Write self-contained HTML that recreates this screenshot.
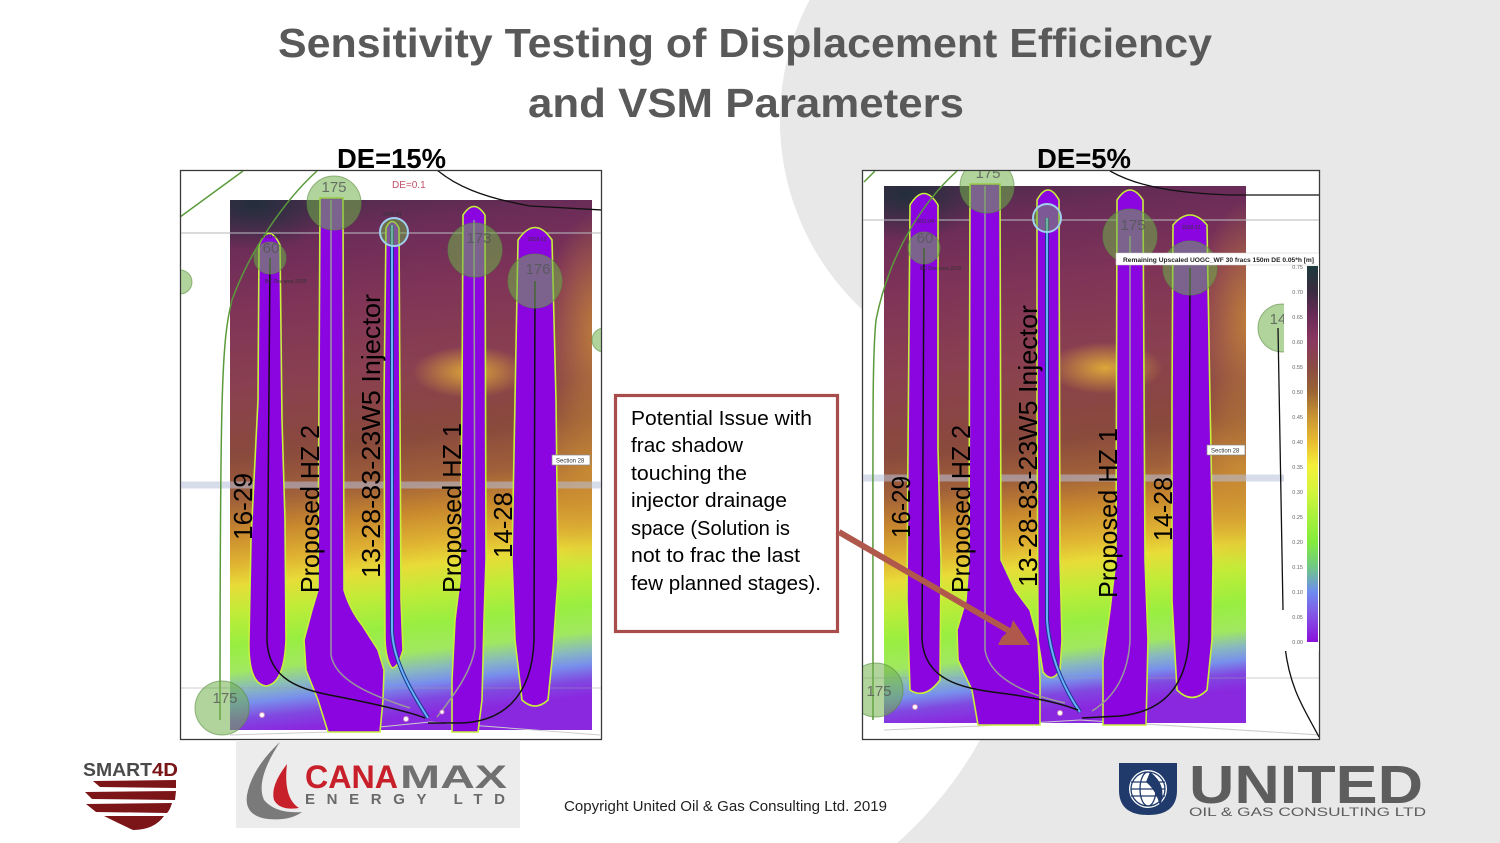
<!DOCTYPE html>
<html><head><meta charset="utf-8"><style>
html,body{margin:0;padding:0;background:#e8e8e8;}
svg{display:block;font-family:"Liberation Sans",sans-serif;}
</style></head><body>
<svg width="1500" height="843" viewBox="0 0 1500 843" xmlns="http://www.w3.org/2000/svg">
<defs>
 <linearGradient id="mapL" gradientUnits="userSpaceOnUse" x1="230" y1="200" x2="290" y2="730">
  <stop offset="0" stop-color="#4c2c4c"/><stop offset="0.08" stop-color="#6a2c58"/>
  <stop offset="0.2" stop-color="#7f3358"/><stop offset="0.35" stop-color="#8a4050"/>
  <stop offset="0.48" stop-color="#8a4a3c"/><stop offset="0.56" stop-color="#a0603a"/>
  <stop offset="0.62" stop-color="#c8882e"/><stop offset="0.68" stop-color="#e0b432"/>
  <stop offset="0.72" stop-color="#e8dc38"/><stop offset="0.77" stop-color="#c0ec38"/>
  <stop offset="0.83" stop-color="#98ee40"/><stop offset="0.88" stop-color="#a0e860"/>
  <stop offset="0.915" stop-color="#88b8c0"/><stop offset="0.94" stop-color="#7890ec"/>
  <stop offset="0.97" stop-color="#8048e0"/><stop offset="1" stop-color="#8a28e0"/>
 </linearGradient>
 <linearGradient id="mapR" gradientUnits="userSpaceOnUse" x1="884" y1="186" x2="944" y2="723">
  <stop offset="0" stop-color="#4c2c4c"/><stop offset="0.08" stop-color="#6a2c58"/>
  <stop offset="0.2" stop-color="#7f3358"/><stop offset="0.35" stop-color="#8a4050"/>
  <stop offset="0.5" stop-color="#8a4a3c"/><stop offset="0.57" stop-color="#a0603a"/>
  <stop offset="0.63" stop-color="#c8882e"/><stop offset="0.69" stop-color="#e0b432"/>
  <stop offset="0.73" stop-color="#e8dc38"/><stop offset="0.78" stop-color="#c0ec38"/>
  <stop offset="0.84" stop-color="#98ee40"/><stop offset="0.89" stop-color="#a0e860"/>
  <stop offset="0.92" stop-color="#88b8c0"/><stop offset="0.945" stop-color="#7890ec"/>
  <stop offset="0.97" stop-color="#8048e0"/><stop offset="1" stop-color="#8a28e0"/>
 </linearGradient>
 <radialGradient id="gDark"><stop offset="0" stop-color="#1e2e3a" stop-opacity="0.9"/><stop offset="1" stop-color="#1e2e3a" stop-opacity="0"/></radialGradient>
 <radialGradient id="gOr"><stop offset="0" stop-color="#e2ac38" stop-opacity="0.95"/><stop offset="1" stop-color="#e2ac38" stop-opacity="0"/></radialGradient>
 <radialGradient id="gOr2"><stop offset="0" stop-color="#cc9034" stop-opacity="0.8"/><stop offset="1" stop-color="#cc9034" stop-opacity="0"/></radialGradient>
 <linearGradient id="cbar" x1="0" y1="0" x2="0" y2="1">
  <stop offset="0" stop-color="#1c3a3c"/><stop offset="0.067" stop-color="#3a2c40"/>
  <stop offset="0.133" stop-color="#6a2a58"/><stop offset="0.2" stop-color="#8a3860"/>
  <stop offset="0.267" stop-color="#8a4a44"/><stop offset="0.333" stop-color="#9a6434"/>
  <stop offset="0.4" stop-color="#c89432"/><stop offset="0.467" stop-color="#e8bc30"/>
  <stop offset="0.533" stop-color="#f4f038"/><stop offset="0.6" stop-color="#d4f43c"/>
  <stop offset="0.667" stop-color="#a8f03c"/><stop offset="0.733" stop-color="#84ec3c"/>
  <stop offset="0.8" stop-color="#70c884"/><stop offset="0.867" stop-color="#6e8cf0"/>
  <stop offset="0.933" stop-color="#8450e4"/><stop offset="1" stop-color="#8a10dc"/>
 </linearGradient>
 <clipPath id="cpL"><rect x="181" y="171" width="420" height="568"/></clipPath>
 <clipPath id="cpR"><rect x="863" y="171" width="456" height="568"/></clipPath>
 <clipPath id="mL"><rect x="230" y="200" width="362" height="530"/></clipPath>
 <clipPath id="mR"><rect x="884" y="186" width="362" height="537"/></clipPath>
</defs>

<!-- background -->
<rect width="1500" height="843" fill="#e8e8e8"/>
<path d="M0,0 L809.5,0 A259,259 0 0 0 887,330 L1000,700 L980,740 A390,390 0 0 1 897,843 L0,843 Z" fill="#ffffff"/>

<!-- title -->
<text x="278" y="57" font-size="41" font-weight="bold" fill="#595959" textLength="934" lengthAdjust="spacingAndGlyphs">Sensitivity Testing of Displacement Efficiency</text>
<text x="528" y="117" font-size="41" font-weight="bold" fill="#595959" textLength="436" lengthAdjust="spacingAndGlyphs">and VSM Parameters</text>

<text x="337" y="168" font-size="28" font-weight="bold" fill="#000" textLength="109" lengthAdjust="spacingAndGlyphs">DE=15%</text>
<text x="1037" y="168" font-size="28" font-weight="bold" fill="#000" textLength="94" lengthAdjust="spacingAndGlyphs">DE=5%</text>

<!-- ============ LEFT PANEL ============ -->
<rect x="180.5" y="170.5" width="421" height="569" fill="#fff" stroke="#3a3a3a" stroke-width="1.3"/>
<g clip-path="url(#cpL)">
 <g clip-path="url(#mL)">
  <rect x="230" y="200" width="362" height="530" fill="url(#mapL)"/>
  <ellipse cx="255" cy="205" rx="85" ry="45" fill="url(#gDark)"/>
  <ellipse cx="470" cy="372" rx="58" ry="26" fill="url(#gOr)"/>
  <ellipse cx="600" cy="330" rx="55" ry="120" fill="url(#gOr2)"/>
  <ellipse cx="592" cy="470" rx="75" ry="95" fill="url(#gOr2)"/>
 </g>
 <line x1="180" y1="233" x2="602" y2="233" stroke="#b8b8c0" stroke-width="1.5" opacity="0.7"/>
 <line x1="180" y1="485" x2="602" y2="485" stroke="#b8c0dc" stroke-width="7" opacity="0.55"/>
 <line x1="180" y1="688" x2="602" y2="688" stroke="#9a9aa8" stroke-width="1" opacity="0.5"/>
 <path d="M230,735 L330,732 L430,722 L600,735" fill="none" stroke="#ccc" stroke-width="1"/>
 <!-- wells -->
 <g fill="#8b05e0" stroke="#c8f03a" stroke-width="1.6">
  <path d="M259,245 Q269,222 280,245 L282,420 L285,520 L286,640 Q284,684 266,686 Q248,684 249,640 L251,540 L255,460 L258,400 Z"/>
  <path d="M320,198 L343,198 L344,590 Q350,610 362,625 L378,650 L384,670 L383,700 L380,732 L328,732 L318,700 L306,670 L304,640 L312,610 L318,590 Z"/>
  <path d="M386,228 Q392,215 399,228 L401,600 L403,650 Q398,668 392,668 Q386,660 385,640 L384,400 Z"/>
  <path d="M463,215 Q474,198 485,215 L486,560 L484,620 L482,700 L478,732 L452,732 L452,680 L455,620 L460,580 L462,400 Z"/>
  <path d="M518,240 Q535,215 552,240 L556,400 L558,580 L553,650 L548,700 Q535,712 522,700 L515,640 L512,560 L515,400 Z"/>
 </g>
 <!-- lines -->
 <path d="M331,200 L331,655 C335,680 370,695 410,708" fill="none" stroke="#9a9a9a" stroke-width="1.5"/>
 <path d="M474,220 L475,647 C472,673 450,700 437,717" fill="none" stroke="#9a9a9a" stroke-width="1.5"/>
 <path d="M392,225 L392,630 C393,660 410,690 428,718" fill="none" stroke="#1a3a8a" stroke-width="4"/>
 <path d="M392,225 L392,630 C393,660 410,690 428,718" fill="none" stroke="#6ab0ff" stroke-width="2"/>
 <path d="M270,258 L267,640 C268,680 300,690 340,697 C380,705 410,712 425,718" fill="none" stroke="#111" stroke-width="1.5"/>
 <path d="M535,281 L534,640 C532,700 500,722 460,723 L428,723" fill="none" stroke="#111" stroke-width="1.5"/>
 <path d="M437,170 C455,185 480,197 530,206 L602,210" fill="none" stroke="#111" stroke-width="1.3"/>
 <path d="M180,217 L243,171" fill="none" stroke="#5a9a3a" stroke-width="1.5"/>
 <path d="M317,171 C285,200 250,250 232,300 C222,340 220,380 220,720" fill="none" stroke="#5a9a3a" stroke-width="1.5"/>
 <!-- circles -->
 <g fill="#6fb04a" fill-opacity="0.55" stroke="#5a8a40" stroke-opacity="0.6">
  <circle cx="334" cy="203" r="27"/><circle cx="270" cy="258" r="16"/>
  <circle cx="475" cy="250" r="27"/><circle cx="535" cy="281" r="27"/>
  <circle cx="222" cy="708" r="27"/><circle cx="180" cy="282" r="12"/><circle cx="604" cy="340" r="12"/>
 </g>
 <circle cx="394" cy="232" r="14" fill="#6fb04a" fill-opacity="0.5" stroke="#9fd0f0" stroke-width="2"/>
 <g font-size="15" fill="#555" fill-opacity="0.8" text-anchor="middle">
  <text x="334" y="192">175</text><text x="271" y="253">60</text>
  <text x="479" y="243">173</text><text x="538" y="274">176</text><text x="225" y="703">175</text>
 </g>
 <g font-size="5" fill="#333">
  <text x="262" y="238">2011-04</text><text x="265" y="283">BC Dev area 2018</text>
  <text x="383" y="216">2041-04</text><text x="528" y="241">2018-12</text>
 </g>
 <text x="392" y="188" font-size="10" fill="#c0506a">DE=0.1</text>
 <circle cx="262" cy="715" r="2.5" fill="#fff" stroke="#d090c0"/>
 <circle cx="406" cy="719" r="2.5" fill="#fff" stroke="#d090c0"/>
 <circle cx="442" cy="712" r="2" fill="#fff" stroke="#d090c0"/>
 <rect x="552" y="455" width="38" height="10" fill="#fff" stroke="#888" stroke-width="0.7"/>
 <text x="556" y="462.5" font-size="6" fill="#333">Section 28</text>
 <!-- labels -->
 <g font-size="26" fill="#000">
  <text transform="translate(252,540) rotate(-90)" textLength="67" lengthAdjust="spacingAndGlyphs">16-29</text>
  <text transform="translate(319,593) rotate(-90)" textLength="168" lengthAdjust="spacingAndGlyphs">Proposed HZ 2</text>
  <text transform="translate(380,578) rotate(-90)" textLength="284" lengthAdjust="spacingAndGlyphs">13-28-83-23W5 Injector</text>
  <text transform="translate(461,593) rotate(-90)" textLength="170" lengthAdjust="spacingAndGlyphs">Proposed HZ 1</text>
  <text transform="translate(512,558) rotate(-90)" textLength="66" lengthAdjust="spacingAndGlyphs">14-28</text>
 </g>
</g>

<!-- ============ RIGHT PANEL ============ -->
<rect x="862.5" y="170.5" width="457" height="569" fill="#fff" stroke="#3a3a3a" stroke-width="1.3"/>
<g clip-path="url(#cpR)">
 <g clip-path="url(#mR)">
  <rect x="884" y="186" width="362" height="537" fill="url(#mapR)"/>
  <ellipse cx="905" cy="195" rx="85" ry="45" fill="url(#gDark)"/>
  <ellipse cx="1105" cy="368" rx="58" ry="26" fill="url(#gOr)"/>
  <ellipse cx="1250" cy="320" rx="55" ry="120" fill="url(#gOr2)"/>
  <ellipse cx="1240" cy="470" rx="75" ry="95" fill="url(#gOr2)"/>
 </g>
 <line x1="862" y1="220" x2="1320" y2="220" stroke="#b8b8c0" stroke-width="1.5" opacity="0.7"/>
 <line x1="862" y1="478" x2="1285" y2="478" stroke="#b8c0dc" stroke-width="7" opacity="0.55"/>
 <line x1="862" y1="678" x2="1320" y2="678" stroke="#9a9aa8" stroke-width="1" opacity="0.5"/>
 <path d="M884,730 L980,726 L1080,720 L1320,735" fill="none" stroke="#ccc" stroke-width="1"/>
 <g fill="#8b05e0" stroke="#c8f03a" stroke-width="1.6">
  <path d="M910,205 Q924,182 938,205 L938,450 L941,560 L940,680 Q925,700 910,690 L907,600 L908,450 Z"/>
  <path d="M970,184 L1000,184 L1001,560 L1015,590 L1030,610 L1038,640 L1040,680 L1040,725 L978,725 L972,690 L958,660 L957,630 L966,600 L969,560 Z"/>
  <path d="M1037,200 Q1048,180 1059,200 L1060,560 L1062,640 L1060,670 Q1052,684 1043,672 L1038,640 L1037,400 Z"/>
  <path d="M1117,200 Q1130,180 1143,200 L1145,560 L1148,640 L1146,725 L1103,725 L1103,660 L1110,610 L1116,560 Z"/>
  <path d="M1173,225 Q1190,205 1207,225 L1210,400 L1213,560 L1212,640 L1207,690 Q1192,705 1177,690 L1172,600 L1172,400 Z"/>
 </g>
 <path d="M985,186 L985,650 C990,680 1030,695 1065,703" fill="none" stroke="#9a9a9a" stroke-width="1.5"/>
 <path d="M1130,236 L1130,640 C1128,680 1110,700 1092,711" fill="none" stroke="#9a9a9a" stroke-width="1.5"/>
 <path d="M1047,218 L1047,620 C1050,660 1065,690 1080,712" fill="none" stroke="#1a3a8a" stroke-width="4"/>
 <path d="M1047,218 L1047,620 C1050,660 1065,690 1080,712" fill="none" stroke="#6ab0ff" stroke-width="2"/>
 <path d="M924,248 L922,640 C925,680 960,688 1000,693 C1040,698 1065,705 1078,710" fill="none" stroke="#111" stroke-width="1.5"/>
 <path d="M1190,268 L1189,640 C1186,690 1160,712 1120,716 L1082,718" fill="none" stroke="#111" stroke-width="1.5"/>
 <path d="M1110,171 C1140,188 1180,193 1230,195 L1320,195" fill="none" stroke="#111" stroke-width="1.3"/>
 <path d="M864,182 L875,171" fill="none" stroke="#5a9a3a" stroke-width="1.5"/>
 <path d="M957,171 C925,200 890,250 876,320 C872,360 873,420 873,720" fill="none" stroke="#5a9a3a" stroke-width="1.5"/>
 <g fill="#6fb04a" fill-opacity="0.55" stroke="#5a8a40" stroke-opacity="0.6">
  <circle cx="987" cy="186" r="27"/><circle cx="924" cy="248" r="16"/>
  <circle cx="1130" cy="236" r="27"/><circle cx="1190" cy="268" r="27"/>
  <circle cx="876" cy="690" r="27"/><circle cx="1282" cy="328" r="24"/>
 </g>
 <circle cx="1047" cy="218" r="14" fill="#6fb04a" fill-opacity="0.5" stroke="#9fd0f0" stroke-width="2"/>
 <g font-size="15" fill="#555" fill-opacity="0.8" text-anchor="middle">
  <text x="988" y="178">175</text><text x="925" y="243">60</text>
  <text x="1133" y="230">175</text><text x="879" y="696">175</text><text x="1278" y="324">14</text>
 </g>
 <g font-size="5" fill="#333">
  <text x="916" y="223">2011-04</text><text x="920" y="270">BC Dev area 2018</text>
  <text x="1182" y="229">2018-12</text>
 </g>
 <circle cx="915" cy="707" r="2.5" fill="#fff" stroke="#d090c0"/>
 <circle cx="1060" cy="713" r="2.5" fill="#fff" stroke="#d090c0"/>
 <path d="M1278,328 L1283,610 M1285,647 C1290,690 1305,710 1319,737" fill="none" stroke="#111" stroke-width="1.3"/>
 <rect x="1207" y="445" width="38" height="10" fill="#fff" stroke="#888" stroke-width="0.7"/>
 <text x="1211" y="452.5" font-size="6" fill="#333">Section 28</text>
 <g font-size="26" fill="#000">
  <text transform="translate(910,538) rotate(-90)" textLength="62" lengthAdjust="spacingAndGlyphs">16-29</text>
  <text transform="translate(970,593) rotate(-90)" textLength="168" lengthAdjust="spacingAndGlyphs">Proposed HZ 2</text>
  <text transform="translate(1037,587) rotate(-90)" textLength="282" lengthAdjust="spacingAndGlyphs">13-28-83-23W5 Injector</text>
  <text transform="translate(1117,598) rotate(-90)" textLength="170" lengthAdjust="spacingAndGlyphs">Proposed HZ 1</text>
  <text transform="translate(1172,541) rotate(-90)" textLength="64" lengthAdjust="spacingAndGlyphs">14-28</text>
 </g>
 <!-- legend -->
 <rect x="1284" y="263" width="35" height="388" fill="#fff"/>
 <rect x="1116" y="253" width="203" height="12" fill="#fff" stroke="#ccc" stroke-width="0.5"/>
 <text x="1123" y="262" font-size="6.2" font-weight="bold" fill="#222" textLength="191" lengthAdjust="spacingAndGlyphs">Remaining Upscaled UOGC_WF 30 fracs 150m DE 0.05*h [m]</text>
 <rect x="1307" y="266" width="11" height="376" fill="url(#cbar)"/>
 <g font-size="5.5" fill="#666" text-anchor="end">
  <text x="1303" y="269">0.75</text><text x="1303" y="294">0.70</text><text x="1303" y="319">0.65</text>
  <text x="1303" y="344">0.60</text><text x="1303" y="369">0.55</text><text x="1303" y="394">0.50</text>
  <text x="1303" y="419">0.45</text><text x="1303" y="444">0.40</text><text x="1303" y="469">0.35</text>
  <text x="1303" y="494">0.30</text><text x="1303" y="519">0.25</text><text x="1303" y="544">0.20</text>
  <text x="1303" y="569">0.15</text><text x="1303" y="594">0.10</text><text x="1303" y="619">0.05</text>
  <text x="1303" y="644">0.00</text>
 </g>
</g>

<!-- callout box -->
<rect x="615.5" y="395.5" width="222" height="236" fill="#fff" stroke="#a84c4c" stroke-width="3.2"/>
<g font-size="20" fill="#000">
 <text x="631" y="425" textLength="181" lengthAdjust="spacingAndGlyphs">Potential Issue with</text>
 <text x="631" y="452" textLength="112" lengthAdjust="spacingAndGlyphs">frac shadow</text>
 <text x="631" y="480" textLength="116" lengthAdjust="spacingAndGlyphs">touching the</text>
 <text x="631" y="507" textLength="156" lengthAdjust="spacingAndGlyphs">injector drainage</text>
 <text x="631" y="535" textLength="159" lengthAdjust="spacingAndGlyphs">space (Solution is</text>
 <text x="631" y="562" textLength="169" lengthAdjust="spacingAndGlyphs">not to frac the last</text>
 <text x="631" y="590" textLength="190" lengthAdjust="spacingAndGlyphs">few planned stages).</text>
</g>
<!-- arrow -->
<line x1="839" y1="532" x2="1018" y2="636" stroke="#b0584c" stroke-width="6"/>
<path d="M1030,645 L998,645 L1002,637 L1010,630 L1013,620 Z" fill="#b0584c"/>

<!-- copyright -->
<text x="564" y="811" font-size="14.5" fill="#222" textLength="323" lengthAdjust="spacingAndGlyphs">Copyright United Oil &amp; Gas Consulting Ltd. 2019</text>

<!-- SMART4D logo -->
<text x="83" y="776" font-size="18" font-weight="bold" fill="#4a4a4a" textLength="69" lengthAdjust="spacingAndGlyphs">SMART</text>
<text x="152" y="776" font-size="18" font-weight="bold" fill="#7a1518" textLength="26" lengthAdjust="spacingAndGlyphs">4D</text>
<g fill="#7b1518">
 <path d="M93,781 L176,780 L176,788 L100,787 Z"/>
 <path d="M85,792 L176,791 L175,800 L92,799 Z"/>
 <path d="M86,804 L172,803 Q170,810 167,813 L96,812 Z"/>
 <path d="M104,816 L164,816 Q154,830 133,830 Q120,824 104,816 Z"/>
</g>

<!-- Canamax logo -->
<rect x="236" y="740" width="284" height="88" fill="#ececec"/>
<path d="M280,742 Q252,768 247,795 Q244,816 268,819 Q290,821 302,812 Q276,814 264,800 Q255,780 280,742 Z" fill="#7a7a7a"/>
<path d="M287,764 Q270,786 274,800 Q280,811 299,808 Q283,798 287,764 Z" fill="#c8202a"/>
<text x="305" y="788" font-size="32" font-weight="bold" fill="#c8202a" textLength="93" lengthAdjust="spacingAndGlyphs">CANA</text>
<text x="400" y="788" font-size="32" font-weight="bold" fill="#707070" textLength="107" lengthAdjust="spacingAndGlyphs">MAX</text>
<text x="305" y="804" font-size="15" font-weight="bold" fill="#6a6a6a" textLength="200" lengthAdjust="spacing">ENERGY LTD</text>

<!-- United logo -->
<path d="M1119,763 L1177,763 L1177,790 Q1177,815 1148,815 Q1119,815 1119,790 Z" fill="#1f3a6b"/>
<circle cx="1148" cy="789" r="19" fill="#fff"/>
<g stroke="#1f3a6b" stroke-width="1.3" fill="none">
 <circle cx="1148" cy="789" r="17"/>
 <line x1="1131" y1="782" x2="1165" y2="782"/><line x1="1131" y1="789" x2="1165" y2="789"/><line x1="1131" y1="796" x2="1165" y2="796"/>
 <ellipse cx="1148" cy="789" rx="8" ry="17"/>
</g>
<path d="M1150,772 Q1168,785 1160,806 Q1156,790 1146,782 Z" fill="#1f3a6b"/>
<text x="1189" y="803" font-size="54" font-weight="bold" fill="#5d5d5d" textLength="234" lengthAdjust="spacingAndGlyphs">UNITED</text>
<text x="1189" y="816" font-size="12" fill="#5d5d5d" textLength="237" lengthAdjust="spacingAndGlyphs">OIL &amp; GAS CONSULTING LTD</text>
</svg>
</body></html>
